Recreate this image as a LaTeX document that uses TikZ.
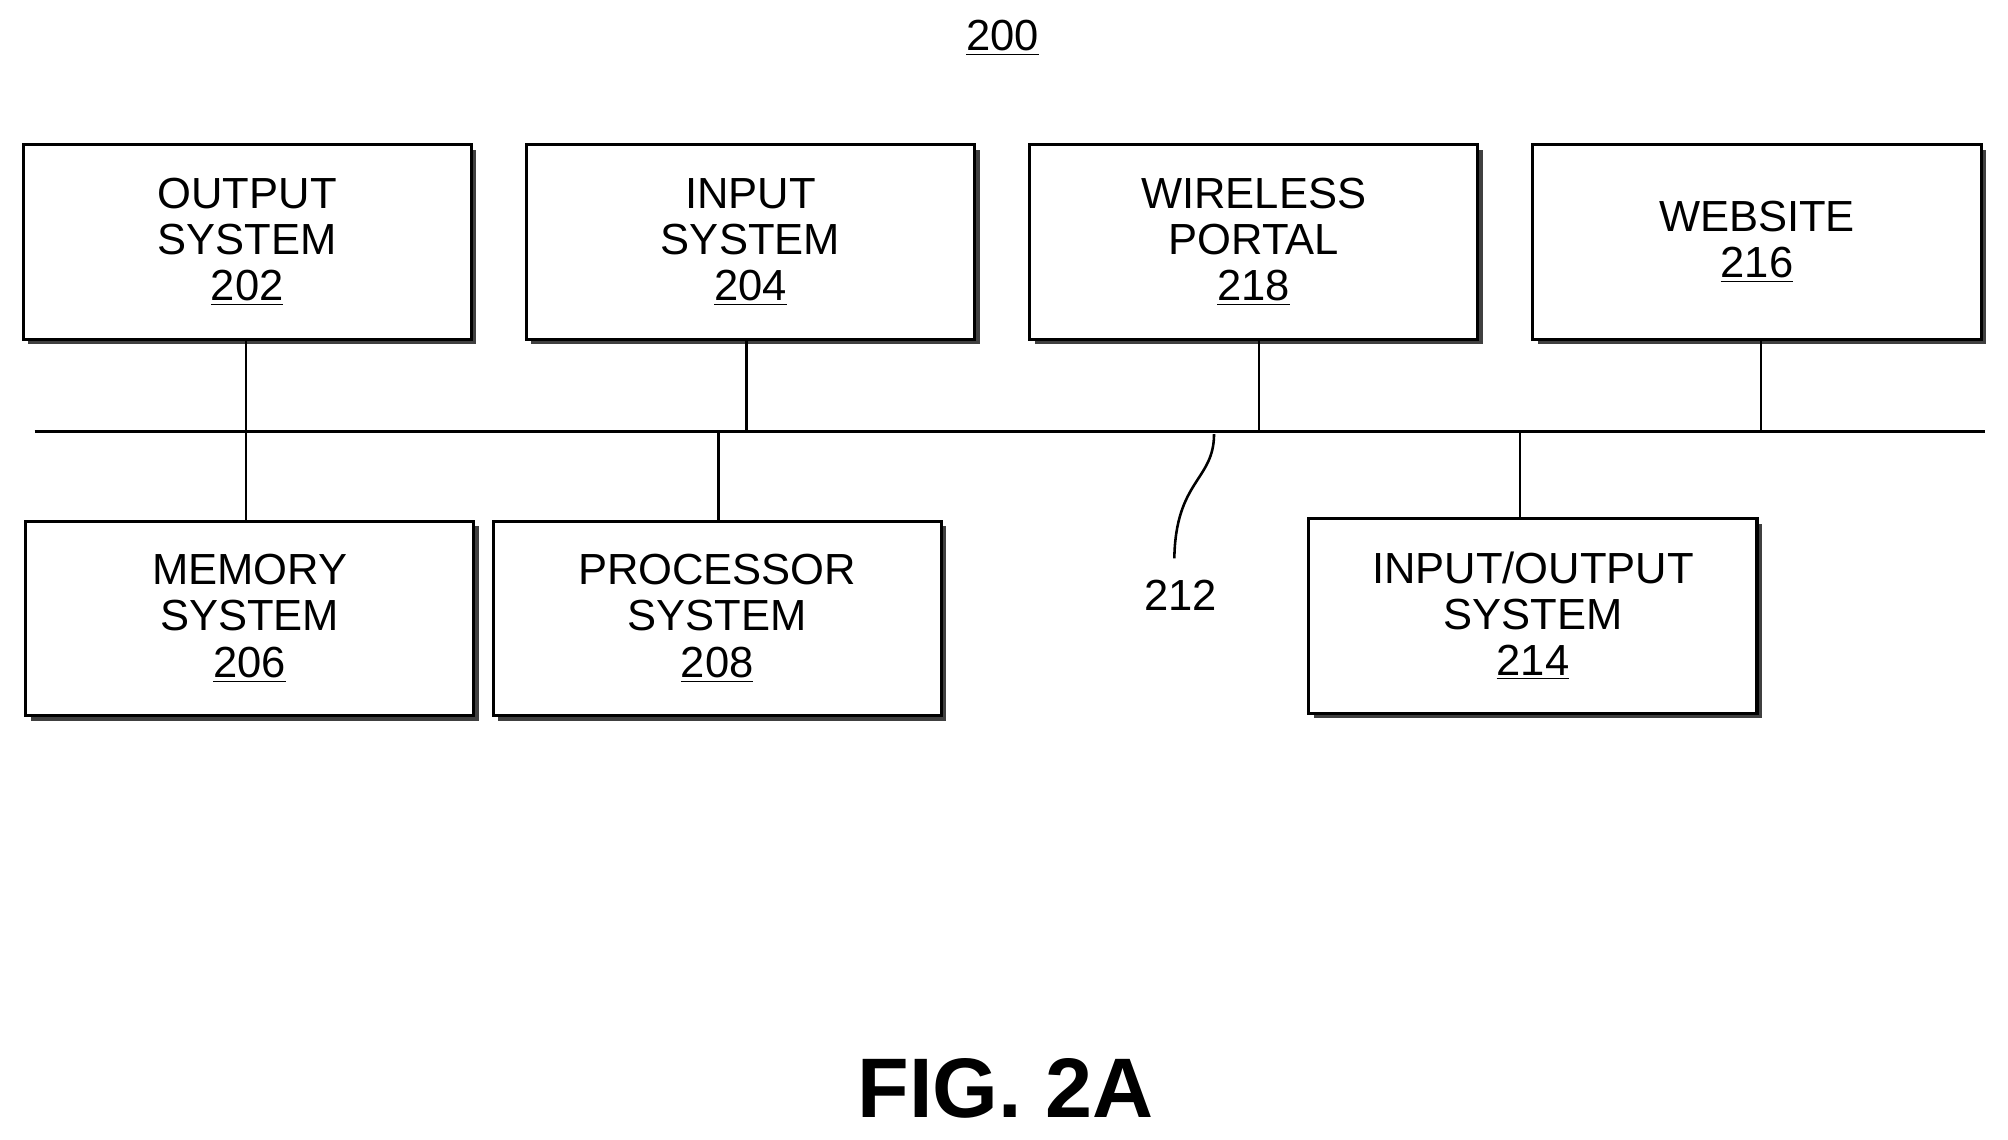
\documentclass[tikz,border=0pt]{standalone}
\usepackage{fontspec}
\setmainfont{Liberation Sans}
\usetikzlibrary{shadows}
\begin{document}
\begin{tikzpicture}[x=0.5pt,y=-0.5pt,
  box/.style={draw,line width=1.2pt,fill=white,minimum width=175pt,minimum height=76pt,align=center,font=\fontsize{17}{18}\selectfont,
    drop shadow={shadow xshift=2pt,shadow yshift=-2pt,fill=black!75,opacity=1}},
  ln/.style={line width=1pt}]
\useasboundingbox (0,0) rectangle (1568,890);
\node[font=\fontsize{17}{18}\selectfont] (t200) at (783,30) {\underline{200}};
\node[box] (o) at (193,189) {OUTPUT\\SYSTEM\\\underline{202}};
\node[box] (i) at (586,189) {INPUT\\SYSTEM\\\underline{204}};
\node[box] (w) at (979,189) {WIRELESS\\PORTAL\\\underline{218}};
\node[box] (s) at (1372,189) {WEBSITE\\\underline{216}};
\node[box] (m) at (195,483) {MEMORY\\SYSTEM\\\underline{206}};
\node[box] (p) at (560,483) {PROCESSOR\\SYSTEM\\\underline{208}};
\node[box] (io) at (1197,481) {INPUT/OUTPUT\\SYSTEM\\\underline{214}};
\coordinate (bl) at (27,337);
\coordinate (br) at (1550,337);
\draw[ln] (bl) -- (br);
\draw[ln] (o.south -| 192,0) -- (m.north -| 192,0);
\draw[ln] (i.south -| 583,0) -- (583,337);
\draw[ln] (p.north -| 561,0) -- (561,337);
\draw[ln] (w.south -| 983,0) -- (983,337);
\draw[ln] (s.south -| 1375,0) -- (1375,337);
\draw[ln] (io.north -| 1187,0) -- (1187,337);
\node[font=\fontsize{17}{18}\selectfont] (l212) at (922,465) {212};
\coordinate (sq) at (948,339);
\draw[ln] (sq) .. controls (948,375) and (918,375) .. (917,436);
\node[font=\bfseries\fontsize{33}{36}\selectfont] (fig) at (785,850) {FIG. 2A};
\end{tikzpicture}
\end{document}
